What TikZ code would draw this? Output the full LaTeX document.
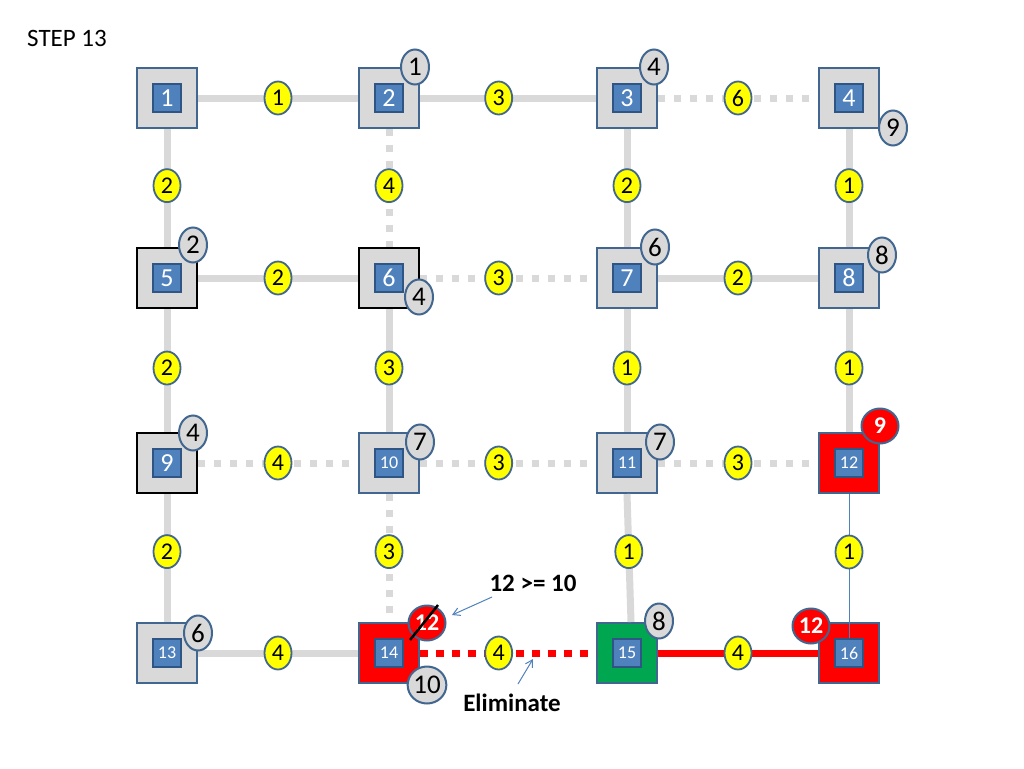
\documentclass[tikz,border=0pt]{standalone}
\usepackage{fontspec}
\setmainfont{Carlito}
\usetikzlibrary{shapes.geometric,arrows.meta}
\definecolor{bord}{HTML}{41668F}
\definecolor{boxgray}{HTML}{D9D9D9}
\definecolor{lgray}{HTML}{D9D9D9}
\definecolor{innerblue}{HTML}{4F81BD}
\definecolor{innerbord}{HTML}{2F5584}
\definecolor{grn}{HTML}{00A650}
\definecolor{wyellow}{HTML}{FFFF00}
\definecolor{arrblue}{HTML}{4F81BD}
\tikzset{
  box/.style={draw=bord, line width=2, fill=boxgray, minimum size=60, inner sep=0},
  blkbox/.style={box, draw=black},
  inbox/.style={draw=innerbord, line width=1.2, fill=innerblue, minimum size=28, inner sep=0, text=white, font=\fontsize{26}{26}\selectfont},
  inboxs/.style={inbox, font=\fontsize{18}{18}\selectfont},
  gline/.style={draw=lgray, line width=7},
  gdot/.style={gline, dash pattern=on 7 off 9},
  rline/.style={draw=red, line width=7},
  rdot/.style={rline, dash pattern=on 8 off 8},
  thinblue/.style={draw=arrblue, line width=1},
  wt/.style={ellipse, solid, draw=bord, line width=1.8, fill=wyellow, minimum width=27, minimum height=33, inner sep=0, font=\fontsize{24}{24}\selectfont},
  badge/.style={ellipse, draw=bord, line width=2, fill=boxgray, minimum width=28, minimum height=35, inner sep=0, font=\fontsize{27}{27}\selectfont},
  badgew/.style={badge, minimum width=37, minimum height=37},
  rbadge/.style={ellipse, draw=bord, line width=2, fill=red, text=white, minimum width=37, minimum height=35, inner sep=0, font=\fontsize{24}{24}\selectfont\bfseries},
  note/.style={font=\fontsize{25}{25}\selectfont\bfseries},
  notearrow/.style={draw=arrblue, line width=1, -{Straight Barb[length=7pt,width=8pt]}}
}
\begin{document}
\begin{tikzpicture}[x=1pt,y=-1pt]
\useasboundingbox (0,0) rectangle (1024,768);
\path[fill=white] (0,0) rectangle (1024,768);
\node[anchor=west, inner sep=0, font=\fontsize{25}{25}\selectfont] (title) at (27,38) {STEP 13};

% outer boxes
\node[box] (n1) at (167,98) {};
\node[box] (n2) at (389,98) {};
\node[box] (n3) at (627,98) {};
\node[box] (n4) at (849,98) {};
\node[blkbox] (n5) at (167,278) {};
\node[blkbox] (n6) at (389,278) {};
\node[box] (n7) at (627,278) {};
\node[box] (n8) at (849,278) {};
\node[blkbox] (n9) at (167,463) {};
\node[box] (n10) at (389,463) {};
\node[box] (n11) at (627,463) {};
\node[box, fill=red] (n12) at (849,463) {};
\node[box] (n13) at (167,653) {};
\node[box, fill=red] (n14) at (389,653) {};
\node[box, fill=grn] (n15) at (627,653) {};
\node[box, fill=red] (n16) at (849,653) {};

% horizontal edges
\draw[gline] (n1) -- node[wt] (w1) {1} (n2);
\draw[gline] (n2) -- node[wt, pos=0.447] (w2) {3} (n3);
\draw[gdot] (n3) -- node[wt] (w3) {6} (n4);
\draw[gline] (n5) -- node[wt] (w4) {2} (n6);
\draw[gdot] (n6) -- node[wt, pos=0.447] (w5) {3} (n7);
\draw[gline] (n7) -- node[wt] (w6) {2} (n8);
\draw[gdot] (n9) -- node[wt] (w7) {4} (n10);
\draw[gdot] (n10) -- node[wt, pos=0.447] (w8) {3} (n11);
\draw[gdot] (n11) -- node[wt] (w9) {3} (n12);
\draw[gline] (n13) -- node[wt] (w10) {4} (n14);
\draw[rdot] (n14) -- node[wt, pos=0.447] (w11) {4} (n15);
\draw[rline] (n15) -- node[wt] (w12) {4} (n16);

% vertical edges
\draw[gline] (n1) -- node[wt, pos=0.48] (w13) {2} (n5);
\draw[gdot] (n2) -- node[wt, pos=0.48] (w14) {4} (n6);
\draw[gline] (n3) -- node[wt, pos=0.48] (w15) {2} (n7);
\draw[gline] (n4) -- node[wt, pos=0.48] (w16) {1} (n8);
\draw[gline] (n5) -- node[wt, pos=0.48] (w17) {2} (n9);
\draw[gline] (n6) -- node[wt, pos=0.48] (w18) {3} (n10);
\draw[gline] (n7) -- node[wt, pos=0.48] (w19) {1} (n11);
\draw[gline] (n8) -- node[wt, pos=0.48] (w20) {1} (n12);
\draw[gline] (n9) -- node[wt, pos=0.45] (w21) {2} (n13);
\draw[gdot] (n10) -- node[wt, pos=0.45] (w22) {3} (n14);
\draw[gline] (n11.south) -- node[wt, pos=0.45] (w23) {1} ([xshift=4]n15.north);
\draw[thinblue] (n12.south) -- (n16.center);
\node[wt] (w24) at (849,552) {1};

% inner boxes
\node[inbox] (i1) at (n1) {1};
\node[inbox] (i2) at (n2) {2};
\node[inbox] (i3) at (n3) {3};
\node[inbox] (i4) at (n4) {4};
\node[inbox] (i5) at (n5) {5};
\node[inbox] (i6) at (n6) {6};
\node[inbox] (i7) at (n7) {7};
\node[inbox] (i8) at (n8) {8};
\node[inbox] (i9) at (n9) {9};
\node[inboxs] (i10) at (n10) {10};
\node[inboxs] (i11) at (n11) {11};
\node[inboxs] (i12) at (n12) {12};
\node[inboxs] (i13) at (n13) {13};
\node[inboxs] (i14) at (n14) {14};
\node[inboxs] (i15) at (n15) {15};
\node[inboxs] (i16) at (n16) {16};

% distance badges
\node[badge] (b2) at (415,67) {1};
\node[badge] (b3) at (654,67) {4};
\node[badge] (b4) at (893,128) {9};
\node[badge] (b5) at (193,245) {2};
\node[badge] (b6) at (419,297) {4};
\node[badge] (b7) at (655,247) {6};
\node[badge] (b8) at (882,255) {8};
\node[badge] (b9) at (193,433) {4};
\node[badge] (b10) at (420,442) {7};
\node[badge] (b11) at (660,442) {7};
\node[rbadge] (b12) at (880,426) {9};
\node[badge] (b13) at (198,633) {6};
\node[rbadge] (b14) at (427,623) {12};
\node[badgew] (b14b) at (427,685) {10};
\node[badge] (b15) at (659,621) {8};
\node[rbadge] (b16) at (811,626) {12};

% strike-through of the old value
\coordinate (s1) at (410,640);
\coordinate (s2) at (438,605);
\draw[black, line width=2.5] (s1) -- (s2);

% notes
\node[note] (ge) at (533,583) {12 >= 10};
\node[note] (elim) at (512,703) {Eliminate};
\coordinate (geTail) at (492,597);
\coordinate (geTip) at (452,615);
\coordinate (elTail) at (518,684);
\coordinate (elTip) at (533,659);
\draw[notearrow] (geTail) -- (geTip);
\draw[notearrow] (elTail) -- (elTip);
\end{tikzpicture}
\end{document}
